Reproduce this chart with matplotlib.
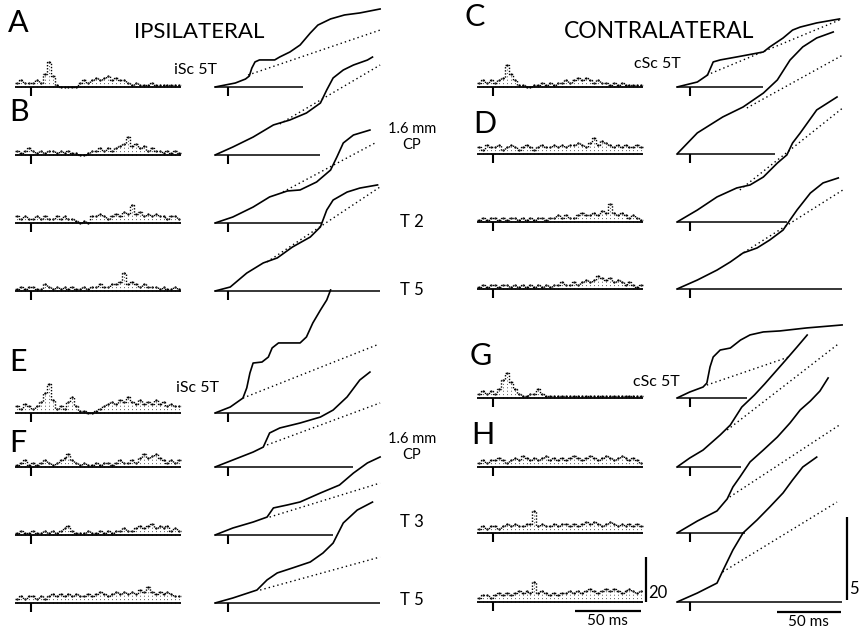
import numpy as np
import matplotlib
matplotlib.use("Agg")
import matplotlib.pyplot as plt

# ---- histogram counts (3 ms bins from -12 ms) ----
hist_A = [2, 3, 2, 2, 2, 3, 2, 6, 11, 5, 1, 0, 0, 0, 0, 0, 2, 3, 2, 3, 4, 3, 4, 5, 3, 4, 3, 3,
          2, 1, 2, 1, 1, 1, 2, 1, 1, 1, 1, 1, 1, 1]
hist_B = [2, 1, 2, 3, 2, 1, 2, 1, 2, 2, 1, 2, 1, 2, 1, 1, 0, 0, 1, 2, 2, 3, 2, 3, 2,
          3, 4, 5, 8, 4, 5, 3, 4, 2, 3, 2, 2, 1, 2, 1, 2, 1]
hist_ipsi_T2 = [3, 2, 3, 2, 2, 3, 2, 3, 2, 2, 3, 2, 3, 2, 2, 1, 0, 1, 0, 3, 3, 4, 3, 2, 3,
                4, 3, 5, 4, 8, 4, 5, 3, 4, 3, 4, 3, 3, 2, 3, 3, 2]
hist_ipsi_T5 = [1, 2, 1, 2, 2, 1, 1, 3, 2, 1, 2, 1, 2, 1, 2, 1, 1, 2, 1, 2, 2, 3, 2, 2, 3,
                3, 4, 8, 3, 4, 3, 2, 3, 2, 2, 2, 1, 2, 1, 1, 2, 1]
hist_E = [3, 2, 4, 3, 2, 3, 5, 9, 13, 6, 2, 3, 2, 5, 7, 3, 1, 1, 0, 0, 1, 2, 3, 4, 5,
          4, 6, 5, 7, 5, 4, 6, 4, 5, 4, 6, 4, 5, 3, 4, 3, 3]
hist_F = [1, 2, 3, 1, 2, 1, 2, 3, 2, 1, 2, 3, 4, 6, 3, 2, 1, 2, 1, 1, 2, 1, 2, 2,
          1, 2, 3, 2, 2, 3, 2, 4, 6, 4, 5, 6, 4, 3, 2, 3, 2, 3]
hist_ipsi_T3 = [1, 2, 1, 1, 2, 1, 1, 2, 1, 2, 1, 2, 3, 4, 2, 1, 1, 1, 2, 1, 1, 2, 1, 2,
                1, 2, 2, 3, 2, 2, 3, 4, 3, 4, 5, 3, 4, 3, 4, 2, 3, 2]
hist_ipsi_T5b = [2, 3, 2, 3, 3, 2, 3, 2, 3, 4, 3, 4, 3, 4, 3, 4, 3, 3, 4, 3, 4, 5, 4, 3,
                 4, 5, 4, 5, 4, 5, 4, 6, 5, 7, 5, 4, 5, 4, 5, 4, 3, 3]

hist_C = [2, 3, 2, 3, 2, 3, 4, 10, 6, 3, 1, 1, 0, 0, 1, 1, 2, 1, 2, 1, 2, 2, 3, 2, 3,
          4, 3, 4, 3, 2, 3, 2, 2, 1, 2, 1, 2, 1, 1, 1, 1, 1]
hist_D = [3, 2, 4, 3, 3, 4, 2, 3, 4, 3, 2, 3, 4, 3, 2, 3, 4, 3, 3, 4, 3, 4, 3, 4,
          4, 5, 4, 3, 5, 7, 4, 6, 5, 4, 3, 4, 3, 4, 3, 3, 4, 3]
hist_contra_T2 = [1, 2, 1, 2, 2, 1, 2, 1, 2, 2, 1, 2, 1, 2, 1, 2, 2, 1, 2, 2, 3, 2, 3, 2,
                  2, 3, 4, 3, 3, 4, 3, 5, 4, 8, 4, 3, 4, 3, 2, 3, 2, 1]
hist_contra_T5 = [1, 2, 1, 2, 2, 1, 2, 2, 1, 2, 1, 2, 1, 2, 1, 2, 1, 2, 1, 2, 2, 3, 2, 2,
                  3, 2, 3, 4, 3, 4, 6, 5, 4, 5, 3, 4, 3, 2, 3, 2, 1, 2]
hist_G = [2, 3, 2, 3, 2, 4, 8, 11, 7, 4, 2, 1, 1, 2, 2, 4, 2, 1, 1, 1, 1, 1, 1, 1,
          1, 1, 1, 1, 1, 1, 1, 1, 1, 1, 1, 1, 1, 1, 1, 1, 1, 1]
hist_H = [2, 3, 2, 3, 3, 4, 3, 2, 3, 4, 3, 5, 4, 3, 4, 3, 4, 5, 3, 4, 3, 4, 3, 4,
          5, 4, 3, 4, 5, 4, 3, 4, 5, 4, 3, 4, 5, 4, 3, 4, 3, 2]
hist_contra_T3 = [2, 3, 2, 3, 3, 2, 3, 4, 3, 4, 3, 3, 4, 4, 10, 3, 4, 3, 3, 4, 3, 4, 4, 3,
                  4, 3, 4, 5, 4, 5, 4, 3, 4, 5, 4, 3, 4, 3, 4, 3, 4, 3]
hist_contra_T5b = [2, 3, 3, 2, 3, 4, 3, 4, 3, 4, 5, 4, 5, 4, 9, 4, 5, 4, 3, 4, 3, 4, 4, 5,
                   4, 5, 4, 5, 6, 5, 4, 5, 6, 5, 6, 5, 4, 5, 6, 5, 4, 5]

# ---- cumulative sums: time (ms) and value (arbitrary units, bar = 5) ----
cum_A_t = [-10, -2, 6, 14, 17, 19, 21.5, 25, 37, 41, 49, 57, 65, 71, 81, 92, 104, 120]
cum_A_y = [0, 0.12, 0.24, 0.48, 0.66, 1.14, 1.51, 1.63, 1.63, 1.81, 2.11, 2.53, 3.25, 3.73,
           4.10, 4.34, 4.46, 4.70]
cum_B_t = [-10, 4, 20, 36, 49, 62, 73, 78, 83, 91, 99, 110, 114]
cum_B_y = [0, 0.48, 1.08, 1.81, 2.11, 2.53, 3.13, 3.92, 4.64, 5.12, 5.42, 5.72, 5.90]
cum_ipsi_T2_t = [-10, 4, 20, 33, 47, 57, 70, 81, 86, 91, 99, 112]
cum_ipsi_T2_y = [0, 0.36, 0.96, 1.57, 1.93, 1.99, 2.47, 3.19, 3.98, 4.82, 5.30, 5.60]
cum_ipsi_T5_t = [-10, 2, 15, 28, 39, 51, 65, 73, 78, 83, 94, 104, 118]
cum_ipsi_T5_y = [0, 0.24, 1.08, 1.69, 1.99, 2.65, 3.25, 3.86, 4.88, 5.48, 5.96, 6.20, 6.39]
cum_E_t = [-10, 2, 12, 15, 17.5, 20, 27, 32, 35, 40, 57, 62, 67, 73, 78, 81]
cum_E_y = [0, 0.36, 0.90, 1.51, 2.41, 3.01, 3.07, 3.37, 3.92, 4.22, 4.22, 4.58, 5.42, 6.20,
           6.81, 7.41]
cum_F_t = [-10, 4, 20, 28, 33, 41, 57, 73, 83, 94, 104, 112]
cum_F_y = [0, 0.42, 0.90, 1.20, 2.05, 2.35, 2.65, 3.01, 3.43, 4.22, 5.24, 5.72]
cum_ipsi_T3_t = [-10, 4, 20, 31, 36, 47, 57, 73, 88, 99, 110, 120]
cum_ipsi_T3_y = [0, 0.42, 0.78, 1.08, 1.63, 1.81, 1.99, 2.53, 3.01, 3.73, 4.34, 4.70]
cum_ipsi_T5b_t = [-10, 4, 23, 31, 39, 51, 65, 75, 83, 91, 102, 114]
cum_ipsi_T5b_y = [0, 0.30, 0.78, 1.39, 1.81, 2.11, 2.47, 3.01, 3.61, 4.82, 5.60, 6.08]

cum_C_t = [-10, 6, 14, 17.5, 18.5, 24, 37, 58, 63, 73.5, 81, 87, 100, 118]
cum_C_y = [0, 0.30, 0.72, 1.33, 1.51, 1.63, 1.81, 2.11, 2.41, 2.95, 3.43, 3.61, 3.86, 4.10]
cum_D_t = [-10, 6, 26, 42, 58, 69, 79, 89, 100, 113]
cum_D_y = [0, 1.27, 2.23, 2.83, 3.67, 4.46, 5.66, 6.45, 6.99, 7.35]
cum_contra_T2_t = [-10, 6, 21.5, 37, 47.5, 58, 69, 76.5, 81, 87, 100, 116]
cum_contra_T2_y = [0, 0.72, 1.51, 2.05, 2.23, 2.71, 3.55, 4.04, 4.76, 5.36, 6.75, 7.53]
cum_contra_T5_t = [-10, 6, 21.5, 32, 42, 53, 63, 73.5, 79, 84.5, 95, 105, 117]
cum_contra_T5_y = [0, 0.54, 1.14, 1.63, 2.17, 2.47, 2.95, 3.55, 4.16, 4.76, 5.78, 6.39, 6.69]
cum_G_t = [-10, 0, 10.5, 13.5, 16, 18.5, 24, 32, 40, 47.5, 58, 71, 92, 120]
cum_G_y = [0, 0.36, 0.66, 0.90, 1.87, 2.47, 2.89, 3.01, 3.49, 3.80, 3.98, 4.04, 4.22, 4.40]
cum_H_t = [-10, 0, 10.5, 24, 32, 41, 51, 59, 75, 84.5, 92.5]
cum_H_y = [0, 0.54, 1.02, 1.93, 2.53, 3.61, 4.34, 5.00, 6.39, 7.23, 7.95]
cum_contra_T3_t = [-10, 6, 21.5, 29.5, 34, 39.5, 47.5, 58, 69, 79, 87, 95, 102.5, 109]
cum_contra_T3_y = [0, 0.72, 1.33, 2.05, 2.77, 3.37, 4.28, 5.00, 5.78, 6.63, 7.41, 7.95,
                   8.55, 9.34]
cum_contra_T5b_t = [-10, 6, 21.5, 26, 34, 42, 53, 63, 73.5, 81, 89, 100]
cum_contra_T5b_y = [0, 0.54, 1.14, 1.87, 3.13, 4.16, 4.94, 5.72, 6.57, 7.35, 8.13, 8.73]

# dotted extrapolation lines: (t_start, y_start, t_end, y_end)
dot_ipsi = [(16, 0.72, 120, 3.43), (41, 1.87, 120, 5.42), (43.5, 1.87, 117.5, 4.88),
            (31, 1.75, 120, 6.27), (12, 0.90, 117.5, 4.10), (31, 1.33, 120, 3.86),
            (33, 1.08, 120, 3.13), (25.5, 0.78, 120, 2.77)]
dot_contra = [(13.5, 0.72, 118, 4.04), (45, 2.77, 120.5, 5.96), (39.5, 1.93, 120.5, 6.87),
              (39.5, 2.05, 120.5, 5.96), (13.5, 0.78, 78, 2.47), (29.5, 2.23, 118, 7.47),
              (31.5, 2.17, 118, 6.51), (26, 1.81, 116, 6.02)]
# length (ms) of the zero line under each cumulative trace
base_end_ipsi = [59, 73, 74, 120, 73, 99, 83, 120]
base_end_contra = [58, 67, 77, 120, 45, 40, 43.5, 120]

row_labels = ["iSc 5T", "1.6 mm\nCP", "T 2", "T 5", "iSc 5T", "1.6 mm\nCP", "T 3", "T 5"]

# ---- layout (pixels of the 860 x 633 canvas) ----
W, H = 860, 633
HIST_PX_MS, HIST_PX_CNT = 1.32, 2.25
CUM_PX_MS, CUM_PX_UNIT = 1.27, 16.6
HIST_T = (-12, 114)
CUM_T = (-10, 120)
bin_edges = np.arange(HIST_T[0], HIST_T[1] + 1, 3)
bin_centers = bin_edges[:-1] + 1.5

base_ipsi = [87, 155, 223, 291, 413, 467, 535, 603]
base_contra = [87, 154, 222, 289, 398, 467, 533, 602]

plt.rcParams['font.family'] = ['Lato', 'DejaVu Sans']
fig = plt.figure(figsize=(W / 100, H / 100), dpi=100)
fig.patch.set_facecolor('white')


def panel_ax(x0, base, trange, px_ms, px_unit, ymax):
    w = (trange[1] - trange[0]) * px_ms
    h = ymax * px_unit
    ax = fig.add_axes([x0 / W, (H - base) / H, w / W, h / H])
    ax.set_xlim(*trange)
    ax.set_ylim(0, ymax)
    ax.axis('off')
    return ax


def draw_hist(ax, counts):
    # dotted outline of the bins plus a dot at each bin top
    ax.step(bin_edges, list(counts) + [counts[-1]], where='post', color='k',
            lw=1.0, ls=(0, (1, 1.2)), clip_on=False)
    ax.vlines(bin_centers, 0, counts, colors='0.35', linestyles=(0, (1, 2.5)), lw=0.7, clip_on=False)
    ax.scatter(bin_centers, counts, s=2.5, c='k', lw=0, clip_on=False)
    ax.hlines(0, *HIST_T, colors='k', lw=1.3, clip_on=False)
    ax.vlines(0, -3.8, 0, colors='k', lw=1.5, clip_on=False)


def draw_cum(ax, t, y, dot, base_end):
    ax.hlines(0, CUM_T[0], base_end, colors='k', lw=1.1, clip_on=False)
    ax.vlines(0, -0.55, 0, colors='k', lw=1.5, clip_on=False)
    ax.plot(t, y, color='k', lw=1.2, clip_on=False)
    ax.plot([dot[0], dot[2]], [dot[1], dot[3]], color='k', lw=1.0,
            ls=(0, (1, 2.2)), clip_on=False)


ipsi_hists = [hist_A, hist_B, hist_ipsi_T2, hist_ipsi_T5, hist_E, hist_F, hist_ipsi_T3, hist_ipsi_T5b]
contra_hists = [hist_C, hist_D, hist_contra_T2, hist_contra_T5, hist_G, hist_H, hist_contra_T3, hist_contra_T5b]
ipsi_cums = [(cum_A_t, cum_A_y), (cum_B_t, cum_B_y), (cum_ipsi_T2_t, cum_ipsi_T2_y),
             (cum_ipsi_T5_t, cum_ipsi_T5_y), (cum_E_t, cum_E_y), (cum_F_t, cum_F_y),
             (cum_ipsi_T3_t, cum_ipsi_T3_y), (cum_ipsi_T5b_t, cum_ipsi_T5b_y)]
contra_cums = [(cum_C_t, cum_C_y), (cum_D_t, cum_D_y), (cum_contra_T2_t, cum_contra_T2_y),
               (cum_contra_T5_t, cum_contra_T5_y), (cum_G_t, cum_G_y), (cum_H_t, cum_H_y),
               (cum_contra_T3_t, cum_contra_T3_y), (cum_contra_T5b_t, cum_contra_T5b_y)]

hist_axes_r, cum_axes_r = [], []
for i in range(8):
    ax = panel_ax(15, base_ipsi[i], HIST_T, HIST_PX_MS, HIST_PX_CNT, 15)
    draw_hist(ax, ipsi_hists[i])
    ax = panel_ax(215, base_ipsi[i], CUM_T, CUM_PX_MS, CUM_PX_UNIT, 10)
    draw_cum(ax, *ipsi_cums[i], dot_ipsi[i], base_end_ipsi[i])

    ax = panel_ax(477, base_contra[i], HIST_T, HIST_PX_MS, HIST_PX_CNT, 15)
    draw_hist(ax, contra_hists[i])
    hist_axes_r.append(ax)
    ax = panel_ax(677, base_contra[i], CUM_T, CUM_PX_MS, CUM_PX_UNIT, 10)
    draw_cum(ax, *contra_cums[i], dot_contra[i], base_end_contra[i])
    cum_axes_r.append(ax)

# scale bars in the last row
axh = hist_axes_r[-1]
axh.vlines(116, 0, 20, colors='k', lw=1.6, clip_on=False)
axh.text(117.5, 0.5, "20", fontsize=12, va='bottom', ha='left')
axh.hlines(-4, 62, 112, colors='k', lw=1.6, clip_on=False)
axh.text(87, -5.5, "50 ms", fontsize=11, va='top', ha='center')

axc = cum_axes_r[-1]
axc.vlines(124, 0.1, 5.1, colors='k', lw=1.6, clip_on=False)
axc.text(125.5, 0.3, "5", fontsize=12, va='bottom', ha='left')
axc.hlines(-0.6, 69, 119, colors='k', lw=1.6, clip_on=False)
axc.text(93.5, -0.8, "50 ms", fontsize=11, va='top', ha='center')


def txt(x, y, s, size, **kw):
    fig.text(x / W, 1 - y / H, s, fontsize=size, ha='center', va='center', **kw)


for letter, (x, y) in zip("ABCDEFGH", [(18, 23), (19, 112), (475, 17), (485, 124),
                                        (18, 362), (18, 443), (481, 356), (483, 435)]):
    txt(x, y, letter, 22)

txt(199, 32, "IPSILATERAL", 16)
txt(659, 32, "CONTRALATERAL", 16.5)
txt(195, 70, row_labels[0], 11.5)
txt(657, 64, "cSc 5T", 11.5)
txt(197, 388, row_labels[4], 11.5)
txt(656, 382, "cSc 5T", 11.5)
for lab, y in zip(row_labels[1:4] + row_labels[5:], [137, 222, 290, 447, 522, 600]):
    txt(412, y, lab, 10.5 if "mm" in lab else 12, linespacing=1.1)

fig.savefig("out.png", dpi=100, facecolor='white')
